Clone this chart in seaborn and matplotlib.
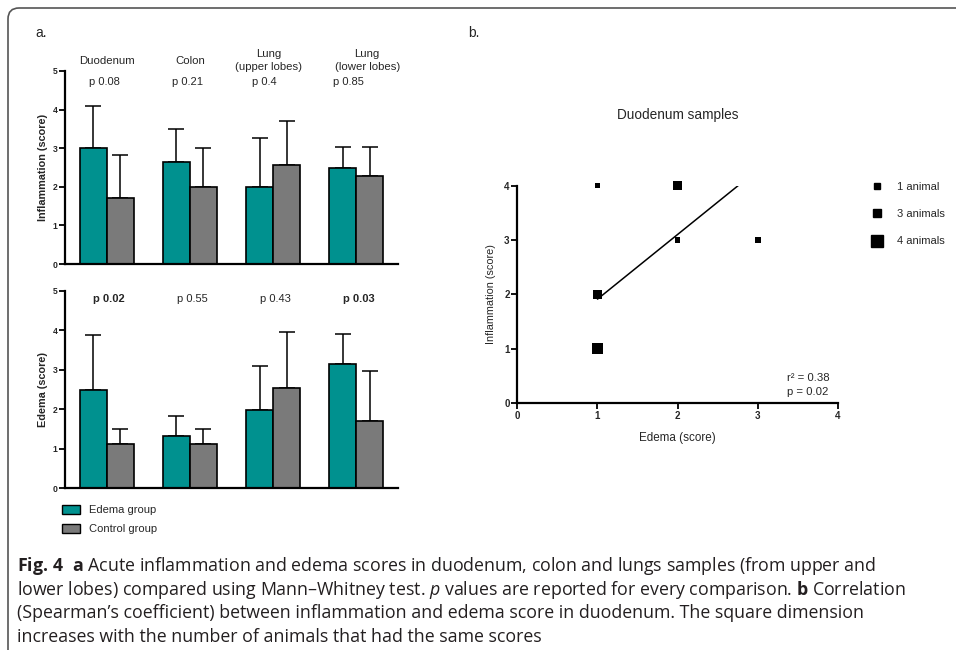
import numpy as np
import pandas as pd
import seaborn as sns
import matplotlib.pyplot as plt
import matplotlib.font_manager as fm
from matplotlib.patches import Patch, PathPatch
from matplotlib.path import Path
from matplotlib.lines import Line2D

# ---- data ----
organs = ['Duodenum', 'Colon', 'Lung\n(upper lobes)', 'Lung\n(lower lobes)']
groups = ['Edema group', 'Control group']

infl_edema = [3.0, 2.64, 2.0, 2.48]
infl_edema_sd = [1.09, 0.85, 1.27, 0.56]
infl_ctrl = [1.70, 2.0, 2.56, 2.27]
infl_ctrl_sd = [1.13, 1.0, 1.14, 0.77]
p_infl = ['p 0.08', 'p 0.21', 'p 0.4', 'p 0.85']

edema_edema = [2.48, 1.31, 1.98, 3.14]
edema_edema_sd = [1.40, 0.53, 1.11, 0.78]
edema_ctrl = [1.12, 1.12, 2.55, 1.69]
edema_ctrl_sd = [0.38, 0.38, 1.41, 1.29]
p_edema = ['p 0.02', 'p 0.55', 'p 0.43', 'p 0.03']
p_edema_bold = [True, False, False, True]

# panel b: duodenum scores, number of animals per square
edema_score = [1, 2, 2, 3, 1, 1]
infl_score = [4, 4, 3, 3, 2, 1]
n_animals = [1, 3, 1, 1, 3, 4]
size_labels = ['1 animal', '3 animals', '4 animals']

teal = '#00918F'
gray = '#7A7A7A'

sns.set_style('ticks')
plt.rcParams['font.family'] = ['Liberation Sans', 'DejaVu Sans']

names = {f.name for f in fm.fontManager.ttflist}
cap_font = 'Liberation Sans Narrow' if 'Liberation Sans Narrow' in names else 'Open Sans'
plt.rcParams['mathtext.fontset'] = 'custom'
plt.rcParams['mathtext.rm'] = cap_font
plt.rcParams['mathtext.bf'] = cap_font + ':bold'
plt.rcParams['mathtext.it'] = cap_font + ':italic'

W, H = 956, 653
fig = plt.figure(figsize=(W / 100, H / 100), dpi=100)


def px(x, y):
    return x / W, 1 - y / H


def box(l, t, r, b):
    return [l / W, 1 - b / H, (r - l) / W, (b - t) / H]


def style_axes(ax, size=6.2):
    for s in ['left', 'bottom']:
        ax.spines[s].set_linewidth(1.6)
        ax.spines[s].set_color('black')
    ax.tick_params(axis='both', width=1.3, length=4.5, pad=1, labelsize=size, color='black')
    for lbl in ax.get_xticklabels() + ax.get_yticklabels():
        lbl.set_fontweight('bold')


def bar_panel(ax, edema, edema_sd, ctrl, ctrl_sd, ylabel):
    df = pd.DataFrame({'organ': organs * 2,
                       'group': [groups[0]] * 4 + [groups[1]] * 4,
                       'score': edema + ctrl})
    sns.barplot(data=df, x='organ', y='score', hue='group', hue_order=groups,
                palette=[teal, gray], width=0.65, saturation=1, errorbar=None,
                edgecolor='black', linewidth=1.2, legend=False, ax=ax, zorder=2)
    for cont, sd in zip(ax.containers, [edema_sd, ctrl_sd]):
        xs = [b.get_x() + b.get_width() / 2 for b in cont]
        ys = [b.get_height() for b in cont]
        ax.errorbar(xs, ys, yerr=[np.zeros(len(sd)), sd], fmt='none', ecolor='black',
                    elinewidth=1.1, capsize=6, capthick=1.1, zorder=1)
    ax.set_xlim(-0.5, 3.5)
    ax.set_ylim(0, 5)
    ax.set_yticks(range(6))
    ax.set_xticks([])
    ax.set_xlabel('')
    ax.set_ylabel(ylabel, fontsize=7.8, fontweight='bold', labelpad=3)
    sns.despine(ax=ax)
    style_axes(ax)


# ---- panel a ----
ax1 = fig.add_axes(box(65, 71, 398, 264))
bar_panel(ax1, infl_edema, infl_edema_sd, infl_ctrl, infl_ctrl_sd, 'Inflammation (score)')
offsets = [0, 0, -0.05, 0.13]
for i, (org, p) in enumerate(zip(organs, p_infl)):
    ax1.text(i + offsets[i], 5.27, org, ha='center', va='center', fontsize=8.2, linespacing=1.45)
    ax1.text(i - 0.03 if i < 2 else i - 0.1, 4.72, p, ha='center', va='center', fontsize=8)

ax2 = fig.add_axes(box(65, 291, 398, 488))
bar_panel(ax2, edema_edema, edema_edema_sd, edema_ctrl, edema_ctrl_sd, 'Edema (score)')
for i, (p, bold) in enumerate(zip(p_edema, p_edema_bold)):
    ax2.text(i + 0.03, 4.8, p, ha='center', va='center', fontsize=8,
             fontweight='bold' if bold else 'normal')

handles_a = [Patch(facecolor=teal, edgecolor='black', linewidth=1.0),
             Patch(facecolor=gray, edgecolor='black', linewidth=1.0)]
fig.legend(handles_a, groups, loc='upper left', bbox_to_anchor=px(52, 495), frameon=False,
           fontsize=8, handlelength=1.6, handleheight=0.9, handletextpad=0.8, labelspacing=0.75)

# ---- panel b ----
axb = fig.add_axes(box(517.3, 185.7, 838, 403))
dfb = pd.DataFrame({'Edema': edema_score, 'Inflammation': infl_score, 'n': n_animals})
dfb['animals'] = dfb['n'].map(lambda n: f'{n} animal' + ('s' if n > 1 else ''))
sizes = {'1 animal': 16, '3 animals': 40, '4 animals': 70}
sns.scatterplot(data=dfb, x='Edema', y='Inflammation', size='animals', sizes=sizes,
                size_order=size_labels, marker='s', color='black', edgecolor='none',
                legend=False, clip_on=False, zorder=3, ax=axb)
expanded = dfb.loc[dfb.index.repeat(dfb['n'])]
sns.regplot(data=expanded, x='Edema', y='Inflammation', scatter=False, ci=None,
            line_kws=dict(color='black', lw=1.1), ax=axb)
axb.set_xlim(0, 4)
axb.set_ylim(0, 4)
axb.set_xticks(range(5))
axb.set_yticks(range(5))
axb.set_xlabel('Edema (score)', fontsize=8.4, labelpad=8)
axb.set_ylabel('Inflammation (score)', fontsize=7.8, labelpad=6)
axb.set_title('Duodenum samples', fontsize=9.8, pad=48)
sns.despine(ax=axb)
style_axes(axb, size=7)
axb.text(3.36, 0.33, 'r² = 0.38\np = 0.02', fontsize=8.2, ha='left', va='center', linespacing=1.45)

handles_b = [Line2D([], [], ls='none', marker='s', color='black', markersize=np.sqrt(sizes[k]))
             for k in size_labels]
fig.legend(handles_b, size_labels, loc='upper left', bbox_to_anchor=px(861, 172), frameon=False,
           fontsize=8, handlelength=1.0, handletextpad=1.3, labelspacing=1.55)

# panel letters
fig.text(*px(35, 33), 'a.', fontsize=10, va='center')
fig.text(*px(468, 33), 'b.', fontsize=10, va='center')

# ---- caption ----
cap_lines = [
    r'$\mathbf{Fig.\,4}$  $\mathbf{a}$ Acute inflammation and edema scores in duodenum, colon and lungs samples (from upper and',
    r'lower lobes) compared using Mann–Whitney test. $p$ values are reported for every comparison. $\mathbf{b}$ Correlation',
    '(Spearman’s coefficient) between inflammation and edema score in duodenum. The square dimension',
    'increases with the number of animals that had the same scores',
]
for k, line in enumerate(cap_lines):
    fig.text(*px(17, 571 + 23.6 * k), line, fontsize=12.8, family=cap_font, color='#231f20',
             va='baseline', ha='left')

# rounded border at top-left
verts = [(956, 8), (19, 8), (8, 8), (8, 19), (8, 650)]
codes = [Path.MOVETO, Path.LINETO, Path.CURVE3, Path.CURVE3, Path.LINETO]
verts = [px(x, y) for x, y in verts]
fig.add_artist(PathPatch(Path(verts, codes), facecolor='none', edgecolor='#555555',
                         linewidth=1.2, transform=fig.transFigure))

fig.savefig('out.png', dpi=100)
